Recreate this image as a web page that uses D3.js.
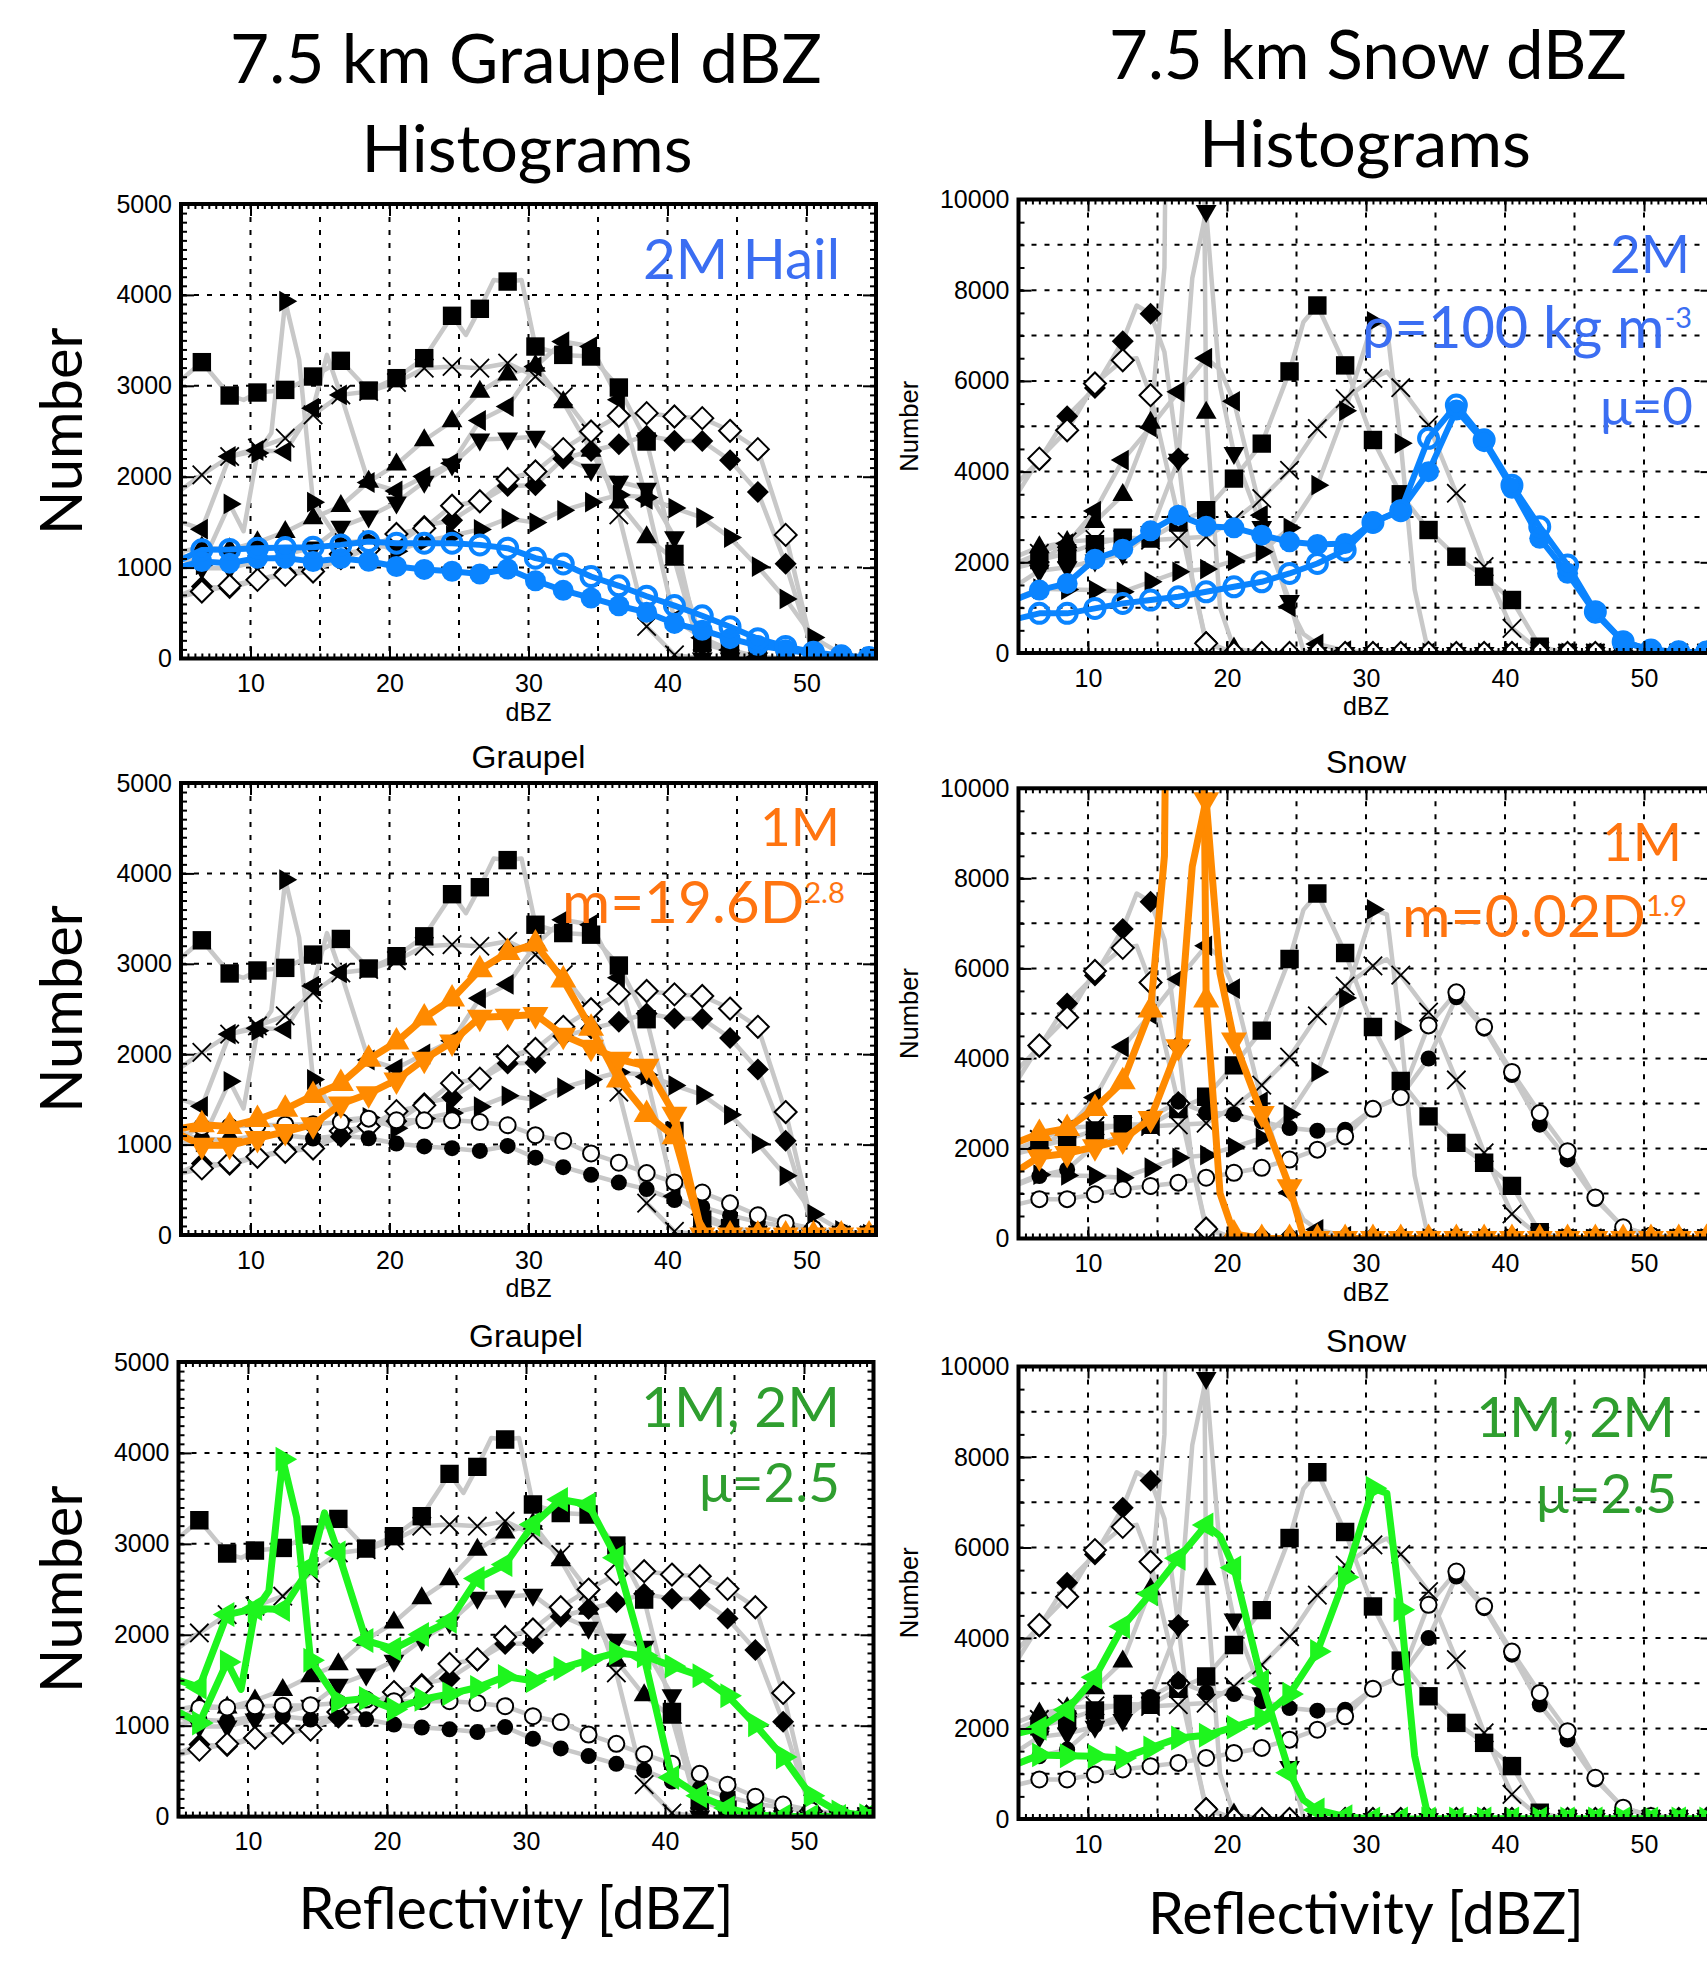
<!DOCTYPE html>
<meta charset="utf-8">
<style>
  body { margin: 0; background: #fff; }
  svg { display: block; }
</style>
<body>
<script src="https://d3js.org/d3.v7.min.js"></script>
<script>
// bin centres where the markers sit (dBZ)
var dbz = [6.5, 8.5, 10.5, 12.5, 14.5, 16.5, 18.5, 20.5, 22.5, 24.5, 26.5, 28.5, 30.5,
           32.5, 34.5, 36.5, 38.5, 40.5, 42.5, 44.5, 46.5, 48.5, 50.5, 52.5, 54.5];

var xTicks = [10, 20, 30, 40, 50];
var xGrid = [10, 15, 20, 25, 30, 35, 40, 45, 50];
var gYTicks = [0, 1000, 2000, 3000, 4000, 5000];
var sYTicks = [0, 2000, 4000, 6000, 8000, 10000];

// ---- graupel (left column); *X = extra points
var gSquare = [3260, 2893, 2926, 2955, 3102, 3275, 2948, 3084, 3304, 3770, 3847, 4147, 3432, 3340, 3322, 2981, 2387, 1151, 169, 77, 0, 0, 0, 0, 0];
var gSquareX = [[5, 3065], [9.5, 2845], [25.5, 3560], [27.5, 4165], [29.5, 4165]];
var gCross = [2020, 2222, 2314, 2424, 2680, 2900, 2937, 3036, 3194, 3212, 3194, 3249, 3102, 2882, 2479, 1580, 352, 40, 0, 0, 0, 0, 0, 0, 0];
var gCrossX = [[5, 1855]];
var gRight = [1030, 1700, 2260, 3930, 1720, 1270, 1300, 1180, 1290, 1350, 1420, 1540, 1495, 1630, 1720, 1800, 1770, 1655, 1550, 1330, 1010, 655, 230, 50, 10];
var gRightX = [[5, 1150], [9.5, 1400], [11.5, 2480], [13.5, 3290]];
var gLeft = [1423, 2222, 2288, 2277, 2754, 2900, 1936, 1844, 2002, 2149, 2618, 2772, 3212, 3487, 3432, 2846, 1750, 430, 228, 94, 20, 0, 0, 0, 0];
var gLeftX = [[5, 1500], [15.5, 3340]];
var gUp = [1220, 1201, 1278, 1392, 1544, 1677, 1944, 2135, 2401, 2610, 2934, 3124, 3220, 2820, 2286, 1715, 1334, 1087, 0, 0, 0, 0, 0, 0, 0];
var gUpX = [[5, 1180]];
var gDown = [992, 992, 1068, 1144, 1220, 1449, 1563, 1715, 1944, 2134, 2408, 2420, 2439, 2210, 2077, 1944, 1868, 1335, 0, 0, 0, 0, 0, 0, 0];
var gDownX = [[5, 1106]];
var gDiamond = [792, 774, 865, 945, 975, 1088, 1210, 1257, 1460, 1520, 1718, 1897, 1906, 2198, 2283, 2358, 2450, 2395, 2392, 2180, 1832, 1042, 50, 0, 0];
var gDiamondX = [[5, 700]];
var gDiamondOpen = [737, 800, 865, 920, 957, 1150, 1200, 1370, 1434, 1680, 1730, 1975, 2058, 2303, 2497, 2670, 2699, 2662, 2644, 2505, 2303, 1360, 60, 0, 0];
var gDiamondOpenX = [[5, 680]];
var gCircle = [1067, 1049, 1104, 1104, 1067, 1100, 1070, 1012, 980, 960, 930, 985, 855, 750, 666, 580, 508, 386, 311, 218, 143, 96, 50, 20, 5];
var gCircleX = [[5, 1012]];
var gCircleOpen = [1195, 1200, 1214, 1220, 1225, 1250, 1287, 1269, 1269, 1269, 1250, 1214, 1104, 1040, 902, 800, 685, 582, 470, 350, 218, 133, 70, 30, 10];
var gCircleOpenX = [[5, 1085]];

// ---- snow (right column)
var sSquare = [2050, 2200, 2400, 2540, 2525, 2877, 3150, 3846, 4617, 6210, 7663, 6342, 4697, 3500, 2712, 2124, 1683, 1169, 139, 0, 0, 0, 0, 0, 0];
var sSquareX = [[5, 1950], [25.5, 7300]];
var sCross = [2200, 2452, 2500, 2500, 2488, 2525, 2562, 2929, 3406, 4030, 4947, 5608, 6057, 5850, 5028, 3522, 1904, 544, 50, 0, 0, 0, 0, 0, 0];
var sCrossX = [[5, 2000], [31.5, 6200]];
var sRight = [1417, 1400, 1387, 1350, 1571, 1791, 1850, 2030, 2230, 2760, 3700, 5340, 7310, 4624, 0, 0, 0, 0, 0, 0, 0, 0, 0, 0, 0];
var sRightX = [[5, 1232], [31.5, 7200], [33.5, 1400]];
var sLeft = [2007, 2413, 3130, 4254, 4980, 5760, 6500, 5550, 3040, 1020, 200, 50, 0, 0, 0, 0, 0, 0, 0, 0, 0, 0, 0, 0, 0];
var sLeftX = [[5, 1897], [19.5, 6250], [25.5, 420]];
var sUp = [2334, 2445, 2890, 3483, 5076, 40000, 5298, 100, 0, 0, 0, 0, 0, 0, 0, 0, 0, 0, 0, 0, 0, 0, 0, 0, 0];
var sUpX = [[5, 2149], [15.5, 8500], [17.5, 40000], [19.5, 1000]];
var sDown = [1815, 1890, 2038, 2186, 2668, 4261, 9744, 4409, 2779, 1149, 0, 0, 0, 0, 0, 0, 0, 0, 0, 0, 0, 0, 0, 0, 0];
var sDownX = [[5, 1519], [17.5, 8262], [19.5, 5891], [25.5, 50]];
var sDiamond = [4250, 5219, 5843, 6877, 7480, 4287, 250, 0, 0, 0, 0, 0, 0, 0, 0, 0, 0, 0, 0, 0, 0, 0, 0, 0, 0];
var sDiamondX = [[5, 3775], [13.5, 7663], [15.5, 6635], [17.5, 1644]];
var sDiamondOpen = [4287, 4910, 5942, 6456, 5685, 3000, 213, 0, 0, 0, 0, 0, 0, 0, 0, 0, 0, 0, 0, 0, 0, 0, 0, 0, 0];
var sDiamondOpenX = [[5, 3554], [13.5, 6500]];
var sCircle = [1387, 1534, 2070, 2290, 2694, 3039, 2797, 2760, 2598, 2452, 2393, 2415, 2880, 3153, 3998, 5358, 4660, 3631, 2529, 1757, 875, 250, 66, 30, 20];
var sCircleX = [[5, 1204]];
var sCircleOpen = [874, 874, 984, 1094, 1167, 1240, 1350, 1460, 1571, 1754, 1974, 2268, 2880, 3138, 4734, 5468, 4700, 3700, 2785, 1940, 911, 250, 66, 30, 20];
var sCircleOpenX = [[5, 763]];

var series = [
  {name: "square", shape: "square", g: gSquare, gx: gSquareX, s: sSquare, sx: sSquareX},
  {name: "cross", shape: "cross", g: gCross, gx: gCrossX, s: sCross, sx: sCrossX},
  {name: "right", shape: "right", g: gRight, gx: gRightX, s: sRight, sx: sRightX},
  {name: "left", shape: "left", g: gLeft, gx: gLeftX, s: sLeft, sx: sLeftX},
  {name: "up", shape: "up", g: gUp, gx: gUpX, s: sUp, sx: sUpX},
  {name: "down", shape: "down", g: gDown, gx: gDownX, s: sDown, sx: sDownX},
  {name: "diamond", shape: "diamond", g: gDiamond, gx: gDiamondX, s: sDiamond, sx: sDiamondX},
  {name: "diamondOpen", shape: "diamond", open: true, g: gDiamondOpen, gx: gDiamondOpenX, s: sDiamondOpen, sx: sDiamondOpenX},
  {name: "circle", shape: "circle", g: gCircle, gx: gCircleX, s: sCircle, sx: sCircleX},
  {name: "circleOpen", shape: "circle", open: true, g: gCircleOpen, gx: gCircleOpenX, s: sCircleOpen, sx: sCircleOpenX}
];

var blue = "#0a84ff", orange = "#ff8a00", green = "#1ef51e";
var hiStyle = {};
hiStyle[blue] = {width: 6, size: 21};
hiStyle[orange] = {width: 7, size: 25};
hiStyle[green] = {width: 7, size: 24};

var panels = [
  {type: "g", x0: 181, x1: 876, y0: 658.5, y1: 204, hi: ["circle", "circleOpen"], col: blue, xlab: true},
  {type: "s", x0: 1018.5, x1: 1713.5, y0: 653, y1: 199.5, hi: ["circle", "circleOpen"], col: blue, xlab: true},
  {type: "g", x0: 181, x1: 876, y0: 1235, y1: 783, hi: ["up", "down"], col: orange, xlab: true, sub: "Graupel"},
  {type: "s", x0: 1018.5, x1: 1713.5, y0: 1238.5, y1: 788.3, hi: ["up", "down"], col: orange, xlab: true, sub: "Snow"},
  {type: "g", x0: 178.5, x1: 873.5, y0: 1816.6, y1: 1362, hi: ["right", "left"], col: green, sub: "Graupel"},
  {type: "s", x0: 1018.5, x1: 1713.5, y0: 1819, y1: 1366.5, hi: ["right", "left"], col: green, sub: "Snow"}
];

var tickFont = "'Liberation Sans', Arial, sans-serif";
var bigFont = "Lato, 'Open Sans', sans-serif";

function shapePath(shape, s) {
  var p = [];
  if (shape == "square") { var h = 0.46 * s; p = [[-h, -h], [h, -h], [h, h], [-h, h]]; }
  if (shape == "up") p = [[0, -0.6 * s], [0.52 * s, 0.3 * s], [-0.52 * s, 0.3 * s]];
  if (shape == "down") p = [[0, 0.6 * s], [0.52 * s, -0.3 * s], [-0.52 * s, -0.3 * s]];
  if (shape == "right") p = [[0.6 * s, 0], [-0.3 * s, -0.52 * s], [-0.3 * s, 0.52 * s]];
  if (shape == "left") p = [[-0.6 * s, 0], [0.3 * s, -0.52 * s], [0.3 * s, 0.52 * s]];
  if (shape == "diamond") { var d = 0.55 * s; p = [[0, -d], [d, 0], [0, d], [-d, 0]]; }
  if (shape == "cross") { var c = 0.46 * s; return "M" + -c + "," + -c + "L" + c + "," + c + "M" + -c + "," + c + "L" + c + "," + -c; }
  if (shape == "circle") { var r = s / 2; return "M" + r + ",0A" + r + "," + r + " 0 1,1 " + -r + ",0A" + r + "," + r + " 0 1,1 " + r + ",0Z"; }
  return "M" + p.map(function(q) { return q[0] + "," + q[1]; }).join("L") + "Z";
}

var svg = d3.select("body").append("svg").attr("width", 1707).attr("height", 1968);
svg.append("rect").attr("width", 1707).attr("height", 1968).attr("fill", "#fff");
var defs = svg.append("defs");

panels.forEach(function(p, pi) {
  var ymax = p.type == "g" ? 5000 : 10000;
  var x = d3.scaleLinear().domain([5, 55]).range([p.x0, p.x1]);
  var y = d3.scaleLinear().domain([0, ymax]).range([p.y0, p.y1]);
  var line = d3.line().x(function(d) { return x(d[0]); }).y(function(d) { return y(d[1]); });

  defs.append("clipPath").attr("id", "clip" + pi).append("rect")
    .attr("x", p.x0).attr("y", p.y1).attr("width", p.x1 - p.x0).attr("height", p.y0 - p.y1);

  var g = svg.append("g");

  // dotted grid
  var grid = g.append("g").attr("stroke", "#000").attr("stroke-width", 2).attr("stroke-dasharray", "5,8");
  grid.selectAll(".vg").data(xGrid).join("line")
    .attr("x1", function(d) { return x(d); }).attr("x2", function(d) { return x(d); })
    .attr("y1", p.y1).attr("y2", p.y0);
  grid.selectAll(".hg").data(d3.range(1000, ymax, 1000)).join("line")
    .attr("y1", function(d) { return y(d); }).attr("y2", function(d) { return y(d); })
    .attr("x1", p.x0).attr("x2", p.x1);

  var plot = g.append("g").attr("clip-path", "url(#clip" + pi + ")");

  function linePts(s) {
    var vals = s[p.type], extra = s[p.type + "x"];
    return dbz.map(function(d, i) { return [d, vals[i]]; }).concat(extra)
      .sort(function(a, b) { return a[0] - b[0]; });
  }
  function markPts(s) {
    return dbz.map(function(d, i) { return [d, s[p.type][i]]; });
  }

  var bg = series.filter(function(s) { return p.hi.indexOf(s.name) < 0; });
  var fg = series.filter(function(s) { return p.hi.indexOf(s.name) >= 0; });

  bg.forEach(function(s) {
    plot.append("path").attr("d", line(linePts(s))).attr("fill", "none")
      .attr("stroke", "#c8c8c8").attr("stroke-width", 4.5).attr("stroke-linejoin", "round");
  });
  bg.forEach(function(s) {
    var size = s.shape == "circle" ? 16 : 20;
    plot.selectAll(null).data(markPts(s)).join("path")
      .attr("transform", function(d) { return "translate(" + x(d[0]) + "," + y(d[1]) + ")"; })
      .attr("d", shapePath(s.shape, size))
      .attr("fill", s.shape == "cross" ? "none" : (s.open ? "#fff" : "#000"))
      .attr("stroke", "#000")
      .attr("stroke-width", s.shape == "cross" ? 1.8 : (s.open ? 2 : 0));
  });

  var st = hiStyle[p.col];
  fg.forEach(function(s) {
    plot.append("path").attr("d", line(linePts(s))).attr("fill", "none")
      .attr("stroke", p.col).attr("stroke-width", st.width).attr("stroke-linejoin", "round");
  });
  fg.forEach(function(s) {
    plot.selectAll(null).data(markPts(s)).join("path")
      .attr("transform", function(d) { return "translate(" + x(d[0]) + "," + y(d[1]) + ")"; })
      .attr("d", shapePath(s.shape, s.open ? st.size - 2 : st.size))
      .attr("fill", s.open ? "none" : p.col)
      .attr("stroke", p.col).attr("stroke-width", s.open ? 4 : 0);
  });

  // axes: major + minor ticks on all four sides
  var yMajor = p.type == "g" ? gYTicks : sYTicks;
  var yMinor = d3.range(0, ymax + 1, p.type == "g" ? 100 : 500);
  var xMinor = d3.range(5, 55.01, 0.5);
  var ax = g.append("g");
  ax.append("g").attr("transform", "translate(0," + p.y0 + ")")
    .call(d3.axisBottom(x).tickValues(xMinor).tickSize(-5).tickFormat(""));
  ax.append("g").attr("transform", "translate(0," + p.y0 + ")")
    .call(d3.axisBottom(x).tickValues(xTicks).tickSize(-12).tickPadding(16).tickFormat(d3.format("d")));
  ax.append("g").attr("transform", "translate(0," + p.y1 + ")")
    .call(d3.axisTop(x).tickValues(xMinor).tickSize(-5).tickFormat(""));
  ax.append("g").attr("transform", "translate(0," + p.y1 + ")")
    .call(d3.axisTop(x).tickValues(xTicks).tickSize(-12).tickFormat(""));
  ax.append("g").attr("transform", "translate(" + p.x0 + ",0)")
    .call(d3.axisLeft(y).tickValues(yMinor).tickSize(-6).tickFormat(""));
  ax.append("g").attr("transform", "translate(" + p.x0 + ",0)")
    .call(d3.axisLeft(y).tickValues(yMajor).tickSize(-13).tickPadding(9).tickFormat(d3.format("d")));
  ax.append("g").attr("transform", "translate(" + p.x1 + ",0)")
    .call(d3.axisRight(y).tickValues(yMinor).tickSize(-6).tickFormat(""));
  ax.append("g").attr("transform", "translate(" + p.x1 + ",0)")
    .call(d3.axisRight(y).tickValues(yMajor).tickSize(-13).tickFormat(""));
  ax.selectAll(".domain").remove();
  ax.selectAll(".tick line").attr("stroke", "#000").attr("stroke-width", 2);
  ax.selectAll("text").attr("font-size", 25).attr("font-family", tickFont).attr("fill", "#000");

  g.append("rect").attr("x", p.x0).attr("y", p.y1).attr("width", p.x1 - p.x0).attr("height", p.y0 - p.y1)
    .attr("fill", "none").attr("stroke", "#000").attr("stroke-width", 4);

  var cx = (p.x0 + p.x1) / 2, cy = (p.y0 + p.y1) / 2;
  if (p.xlab) {
    g.append("text").attr("x", cx).attr("y", p.y0 + 62).attr("text-anchor", "middle")
      .attr("font-family", tickFont).attr("font-size", 25).text("dBZ");
  }
  if (p.sub) {
    g.append("text").attr("x", cx).attr("y", p.y1 - 15).attr("text-anchor", "middle")
      .attr("font-family", tickFont).attr("font-size", 32).text(p.sub);
  }
  if (p.type == "s") {
    var t = g.append("text").attr("transform", "translate(918," + cy + ") rotate(-90)")
      .attr("text-anchor", "middle").attr("font-family", tickFont).attr("font-size", 25).text("Number");
    fit(t, 91);
  } else {
    var t2 = g.append("text").attr("transform", "translate(82," + cy + ") rotate(-90)")
      .attr("text-anchor", "middle").attr("font-family", bigFont).attr("font-size", 62).text("Number");
    fit(t2, 208);
  }
});

function fit(t, w) {
  var bw = t.node().getBBox().width;
  t.attr("font-size", parseFloat(t.attr("font-size")) * w / bw);
}

// big texts: parts, x, baseline, width, anchor, colour
function bigText(parts, x, yb, w, anchor, color) {
  var t = svg.append("text").attr("x", x).attr("y", yb).attr("text-anchor", anchor)
    .attr("font-family", bigFont).attr("font-size", 62).attr("fill", color || "#000");
  parts.forEach(function(pt) {
    if (typeof pt == "string") t.append("tspan").text(pt);
    else t.append("tspan").attr("font-size", "50%").attr("dy", "-0.7em").text(pt.sup);
  });
  fit(t, w);
  return t;
}

bigText(["7.5 km Graupel dBZ"], 526, 83, 592, "middle");
bigText(["Histograms"], 527, 172, 331, "middle");
bigText(["7.5 km Snow dBZ"], 1368, 79, 518, "middle");
bigText(["Histograms"], 1365, 167, 332, "middle");
bigText(["Reflectivity [dBZ]"], 516, 1929, 435, "middle");
bigText(["Reflectivity [dBZ]"], 1366, 1934, 436, "middle");

var blueText = "#3b6ef2", orangeText = "#ff7410", greenText = "#2f9e2f";
bigText(["2M Hail"], 840, 279, 197, "end", blueText);
bigText(["2M"], 1690, 273, 80, "end", blueText);
bigText(["\u03c1=100 kg m", {sup: "-3"}], 1692, 348, 330, "end", blueText);
bigText(["\u03bc=0"], 1693, 425, 93, "end", blueText);
bigText(["1M"], 840, 846, 80, "end", orangeText);
bigText(["m=19.6D", {sup: "2.8"}], 845, 923, 283, "end", orangeText);
bigText(["1M"], 1682, 861, 80, "end", orangeText);
bigText(["m=0.02D", {sup: "1.9"}], 1687, 937, 285, "end", orangeText);
bigText(["1M, 2M"], 840, 1427, 199, "end", greenText);
bigText(["\u03bc=2.5"], 840, 1502, 141, "end", greenText);
bigText(["1M, 2M"], 1675, 1437, 199, "end", greenText);
bigText(["\u03bc=2.5"], 1677, 1513, 141, "end", greenText);
</script>
</body>
